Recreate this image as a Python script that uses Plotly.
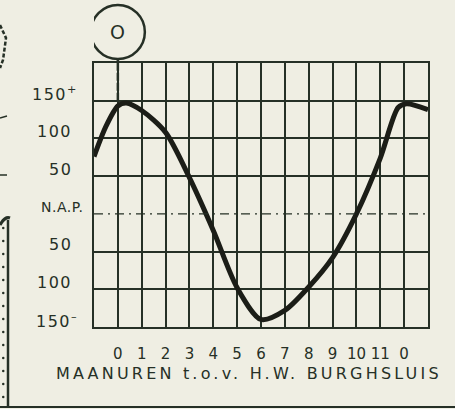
import plotly.graph_objects as go

# ---- data ----
hours = [-1, -0.5, 0, 0.35, 1, 2, 3, 4, 5, 6, 7, 8, 9, 10, 11, 11.75, 12.1, 13]
level_cm = [76, 116, 143, 147, 137, 108, 48, -22, -98, -140, -128, -97, -58, 0, 74, 141, 146, 138]

x_tick_vals = list(range(0, 13))
x_tick_text = ["0", "1", "2", "3", "4", "5", "6", "7", "8", "9", "10", "11", "0"]

y_label_vals = [150, 100, 50, 0, -50, -100, -150]
y_label_text = ["150<sup>+</sup>", "100", "50", "N.A.P.", "50", "100", "150<sup>–</sup>"]
y_grid_vals = [-150, -100, -50, 50, 100, 150, 200]

x_title = "MAANUREN t.o.v. H.W. BURGHSLUIS"
marker_label = "O"

# ---- styling ----
BG = "#efeee3"
INK = "#263026"
CURVE = "#1b1d17"
FONT = "DejaVu Sans"

W, H = 455, 409
L, R, T, B = 94, 27, 63, 82
PW = W - L - R
PH = H - T - B

def px_x(px):
    return (px - L) / PW

def px_y(py):
    return (H - B - py) / PH

fig = go.Figure()
fig.add_trace(go.Scatter(
    x=hours, y=level_cm, mode="lines",
    line=dict(color=CURVE, width=5, shape="spline", smoothing=0.8),
    hoverinfo="skip", showlegend=False,
))

shapes = []
# N.A.P. dash-dot line
shapes.append(dict(type="line", xref="x", yref="y", x0=-1, x1=13, y0=0, y1=0,
                   line=dict(color=INK, width=1.4, dash="9px,5px,2px,5px")))
# circle marker above hour 0
shapes.append(dict(type="circle", xref="x", yref="paper", xsizemode="pixel", ysizemode="pixel",
                   xanchor=0, yanchor=1, x0=-27, x1=27, y0=4, y1=58,
                   line=dict(color=INK, width=2.5)))
shapes.append(dict(type="line", xref="x", yref="paper", ysizemode="pixel", yanchor=1,
                   x0=0, x1=0, y0=0, y1=5, line=dict(color=INK, width=2.5)))
shapes.append(dict(type="line", xref="x", yref="y", x0=0, x1=0, y0=150, y1=200,
                   line=dict(color=INK, width=2.5, dash="8px,2px")))

# scanned page remnants on the left / bottom
shapes.append(dict(type="line", xref="paper", yref="paper", x0=px_x(8), x1=px_x(8),
                   y0=px_y(220), y1=px_y(407), line=dict(color=INK, width=2.5)))
shapes.append(dict(type="line", xref="paper", yref="paper", x0=px_x(0), x1=px_x(455),
                   y0=px_y(407), y1=px_y(407), line=dict(color=INK, width=2)))
shapes.append(dict(type="path", xref="paper", yref="paper",
                   path=f"M {px_x(0)},{px_y(225)} Q {px_x(5)},{px_y(216)} {px_x(10)},{px_y(218)}",
                   line=dict(color=INK, width=3)))
for py in range(228, 405, 13):
    shapes.append(dict(type="circle", xref="paper", yref="paper",
                       x0=px_x(2), x1=px_x(4.5), y0=px_y(py + 1.2), y1=px_y(py - 1.2),
                       fillcolor=INK, line=dict(width=0)))
shapes.append(dict(type="path", xref="paper", yref="paper",
                   path=f"M {px_x(0)},{px_y(25)} L {px_x(6)},{px_y(38)} L {px_x(3)},{px_y(60)} L {px_x(0)},{px_y(68)}",
                   line=dict(color=INK, width=2.5, dash="4px,2px")))
shapes.append(dict(type="line", xref="paper", yref="paper", x0=px_x(0), x1=px_x(7),
                   y0=px_y(118), y1=px_y(116), line=dict(color=INK, width=1.5)))
shapes.append(dict(type="line", xref="paper", yref="paper", x0=px_x(0), x1=px_x(7),
                   y0=px_y(175), y1=px_y(175), line=dict(color=INK, width=1.5)))

annotations = []
for v, t in zip(y_label_vals, y_label_text):
    small = t.startswith("N.")
    if small:
        txt = f'<span style="letter-spacing:0.5px">{t}</span>'
    else:
        txt = f'<span style="letter-spacing:1.5px">{t}</span>'
    annotations.append(dict(
        x=0, xref="paper", y=v, yref="y", xanchor="right", yanchor="middle",
        xshift=-9 if small else (-14 if "sup" in t else -20), yshift=7,
        text=txt, showarrow=False,
        font=dict(family=FONT, size=14 if small else 16, color=INK)))
annotations.append(dict(
    x=0, xref="x", y=1, yref="paper", yshift=31, xanchor="center", yanchor="middle",
    text=marker_label, showarrow=False, font=dict(family=FONT, size=19, color=INK)))
annotations.append(dict(
    x=px_x(249), xref="paper", y=0, yref="paper", yshift=-46, xanchor="center", yanchor="middle",
    text=f'<span style="letter-spacing:3.2px">{x_title}</span>', showarrow=False,
    font=dict(family=FONT, size=16, color=INK)))

fig.update_layout(
    width=W, height=H, margin=dict(l=L, r=R, t=T, b=B),
    paper_bgcolor=BG, plot_bgcolor=BG,
    shapes=shapes, annotations=annotations, showlegend=False,
    xaxis=dict(range=[-1, 13], tickvals=x_tick_vals, ticktext=x_tick_text,
               showgrid=True, gridcolor=INK, gridwidth=1.5, zeroline=False,
               showline=True, linecolor=INK, linewidth=1.8, mirror=True,
               ticks="", ticklabelstandoff=12,
               tickfont=dict(family=FONT, size=15, color=INK), fixedrange=True),
    yaxis=dict(range=[-150, 200], tickvals=y_grid_vals, showticklabels=False,
               showgrid=True, gridcolor=INK, gridwidth=1.5, zeroline=False,
               showline=True, linecolor=INK, linewidth=1.8, mirror=True,
               ticks="", fixedrange=True),
)

fig.write_html(
    "out.html",
    config={"displayModeBar": False},
    post_script="document.body.style.margin='0';document.body.style.background='" + BG + "';",
)
